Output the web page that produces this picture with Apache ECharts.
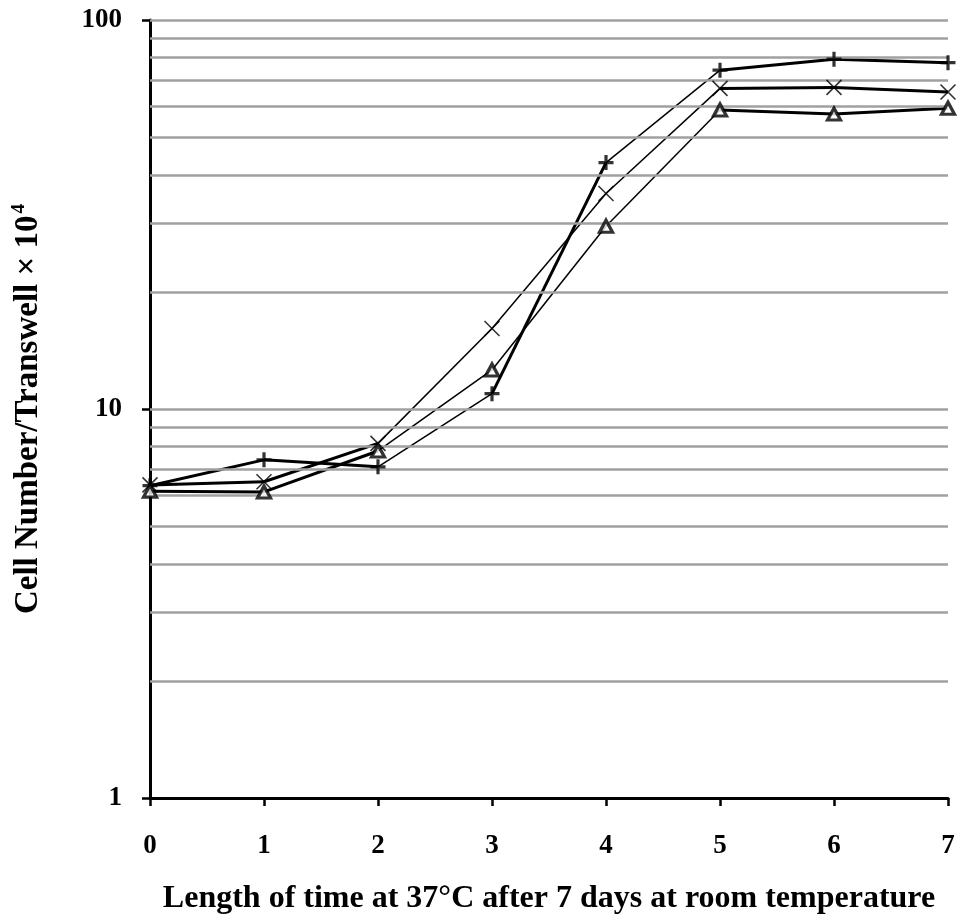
<!DOCTYPE html>
<html><head><meta charset="utf-8">
<script src="https://cdn.jsdelivr.net/npm/echarts@6/dist/echarts.min.js"></script>
<style>html,body{margin:0;padding:0;background:#fff}#c{width:961px;height:922px}</style>
</head><body><div id="c"></div>
<script>
const xValues = [0, 1, 2, 3, 4, 5, 6, 7];
const plusVals = [6.35, 7.4, 7.1, 10.95, 43, 74.3, 79.3, 77.7];
const crossVals = [6.38, 6.5, 8.16, 16.1, 35.8, 66.7, 67.1, 65.3];
const triVals = [6.15, 6.12, 7.8, 12.6, 29.5, 58.7, 57.3, 59.3];
const gridLineValues = [2,3,4,5,6,7,8,9,10,20,30,40,50,60,70,80,90,100];
const xTitle = 'Length of time at 37°C after 7 days at room temperature';

const plusSegW = [3,3,1.5,3,1.5,3,3];
const crossSegW = [3,3,1.5,1.5,1.5,3,3];
const triSegW = [3,3,1.5,1.5,1.5,3,3];

const FONT = 'Liberation Serif';
const series = [];
series.push({
  type:'line', data:[], silent:true, z:1,
  markLine:{silent:true, symbol:'none', animation:false,
    label:{show:false},
    lineStyle:{color:'#a0a0a0', width:2.5, type:'solid'},
    data: gridLineValues.map(v=>({yAxis:v}))}
});
function addSegments(vals, widths){
  for(let i=0;i<vals.length-1;i++){
    series.push({type:'line', showSymbol:false, symbol:'none', z:3, animation:false,
      lineStyle:{color:'#000', width:widths[i]},
      data:[[xValues[i], vals[i]],[xValues[i+1], vals[i+1]]]});
  }
}
addSegments(plusVals, plusSegW);
addSegments(crossVals, crossSegW);
addSegments(triVals, triSegW);
const pair = vals => xValues.map((x,i)=>[x, vals[i]]);
series.push({type:'scatter', z:5, animation:false, data:pair(plusVals),
  symbol:'path://M0,-1L0,1M-1,0L1,0', symbolSize:15,
  itemStyle:{color:'transparent', borderColor:'#000', borderWidth:3.2}});
series.push({type:'scatter', z:5, animation:false, data:pair(crossVals),
  symbol:'path://M-1,-1L1,1M-1,1L1,-1', symbolSize:15,
  itemStyle:{color:'transparent', borderColor:'#000', borderWidth:1.6}});
series.push({type:'scatter', z:5, animation:false, data:pair(triVals),
  symbol:'triangle', symbolSize:[13,12],
  itemStyle:{color:'#fff', borderColor:'#000', borderWidth:3.2}});

const chart = echarts.init(document.getElementById('c'));
chart.setOption({
  backgroundColor:'#fff',
  animation:false,
  grid:{left:150, right:13, top:20, bottom:124, containLabel:false},
  xAxis:{type:'value', min:0, max:7, interval:1,
    name:xTitle, nameLocation:'middle', nameGap:85,
    nameTextStyle:{fontFamily:FONT, fontWeight:'bold', fontSize:32, color:'#000'},
    axisLine:{lineStyle:{color:'#000', width:3}},
    axisTick:{show:true, length:8, lineStyle:{color:'#000', width:2.5}},
    axisLabel:{margin:35, fontFamily:FONT, fontWeight:'bold', fontSize:27, color:'#000'},
    splitLine:{show:false}},
  yAxis:{type:'log', logBase:10, min:1, max:100,
    name:'{a|Cell Number/Transwell × 10}{s|4}', nameLocation:'middle', nameGap:104, nameRotate:90,
    nameTextStyle:{rich:{
      a:{fontFamily:FONT, fontWeight:'bold', fontSize:33, color:'#000'},
      s:{fontFamily:FONT, fontWeight:'bold', fontSize:19, color:'#000', padding:[0,0,17,2]}}},
    axisLine:{show:true, lineStyle:{color:'#000', width:3}},
    axisTick:{show:true, length:8, lineStyle:{color:'#000', width:2.5}},
    axisLabel:{margin:28, fontFamily:FONT, fontWeight:'bold', fontSize:27, color:'#000'},
    splitLine:{show:false}, minorTick:{show:false}},
  series: series
});
</script></body></html>
